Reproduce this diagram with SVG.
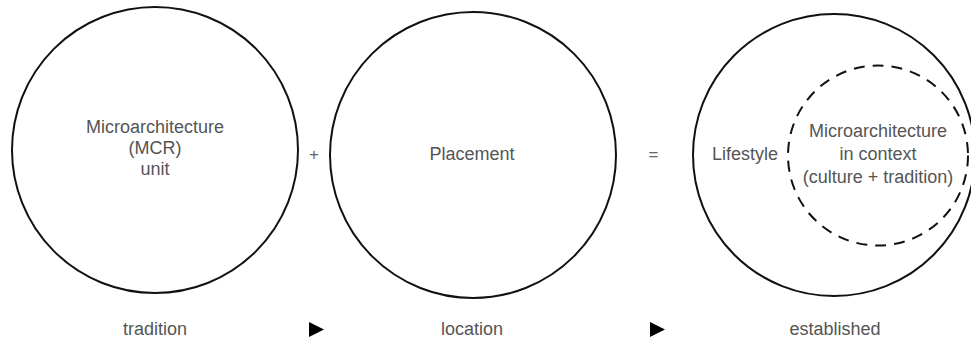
<svg xmlns="http://www.w3.org/2000/svg" width="971" height="340" viewBox="0 0 971 340">
<style>
.c{fill:none;stroke:#111;stroke-width:2}
.d{fill:none;stroke:#111;stroke-width:2;stroke-dasharray:11 8}
.t{font-family:"Liberation Sans",Arial,Helvetica,sans-serif;font-size:18px;fill:#555;text-anchor:middle}
.op{font-family:"Liberation Sans",Arial,Helvetica,sans-serif;font-size:17px;fill:#666;text-anchor:middle}
.a{fill:#000}
</style>
<rect width="971" height="340" fill="#fff"/>
<g id="node-mcr">
<circle class="c" cx="155" cy="150" r="143"/>
<text class="t" x="155" y="133">Microarchitecture</text>
<text class="t" x="155" y="154">(MCR)</text>
<text class="t" x="155" y="175">unit</text>
</g>
<g id="node-placement">
<circle class="c" cx="473" cy="155" r="143"/>
<text class="t" x="472" y="160">Placement</text>
</g>
<g id="node-lifestyle">
<circle class="c" cx="834" cy="155" r="141"/>
<text class="t" x="745" y="160">Lifestyle</text>
</g>
<g id="node-context">
<circle class="d" cx="878" cy="155.5" r="90"/>
<text class="t" x="878" y="137">Microarchitecture</text>
<text class="t" x="878" y="160">in context</text>
<text class="t" x="878" y="183">(culture + tradition)</text>
</g>
<g id="operators">
<text class="op" x="314" y="160">+</text>
<text class="op" x="653.5" y="160">=</text>
</g>
<g id="labels">
<text class="t" x="155" y="335">tradition</text>
<text class="t" x="472" y="335">location</text>
<text class="t" x="835" y="335">established</text>
</g>
<g id="connectors">
<polygon class="a" points="309,322 309,337 324,329.5"/>
<polygon class="a" points="650,322 650,337 665,329.5"/>
</g>
</svg>
